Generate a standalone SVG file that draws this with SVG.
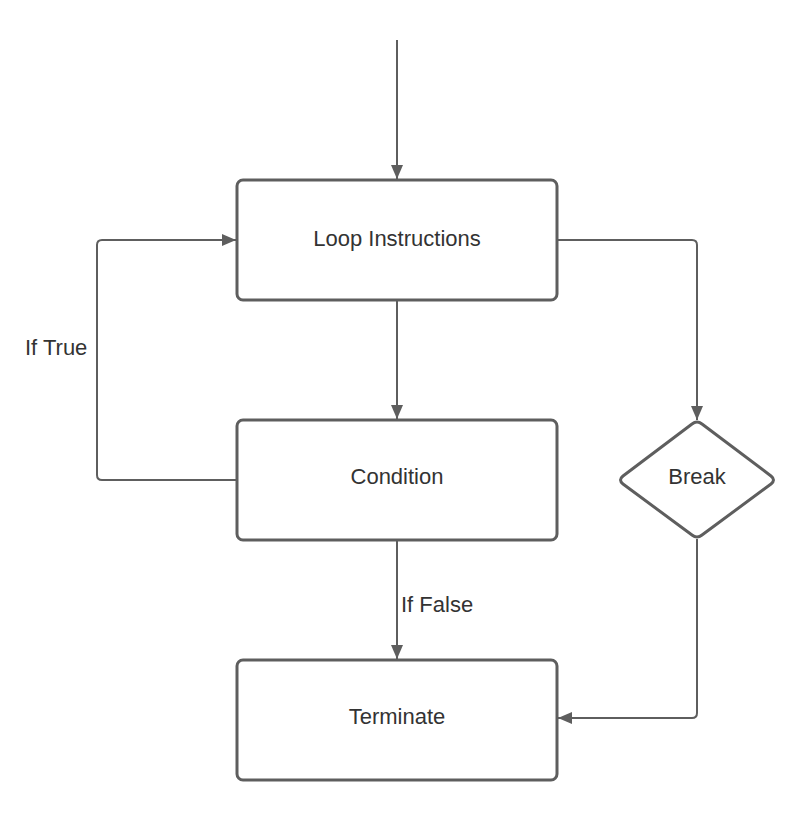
<svg xmlns="http://www.w3.org/2000/svg" width="798" height="820" viewBox="0 0 798 820">
<style>
.box{fill:#fff;stroke:#5e5e5e;stroke-width:3}
.ln{fill:none;stroke:#5e5e5e;stroke-width:2;stroke-linejoin:round}
.t{font-family:"Liberation Sans",Arial,sans-serif;font-size:22px;fill:#333;text-anchor:middle}
.lbl{font-family:"Liberation Sans",Arial,sans-serif;font-size:22px;fill:#333}
</style>
<defs>
<marker id="ah" markerWidth="16" markerHeight="14" refX="14" refY="6" orient="auto" markerUnits="userSpaceOnUse">
<path d="M0,0 L14,6 L0,12 Z" fill="#5e5e5e"/>
</marker>
</defs>
<rect width="798" height="820" fill="#fff"/>
<g id="connectors">
<path class="ln" d="M397,40 L397,179" marker-end="url(#ah)"/>
<path class="ln" d="M397,301 L397,419" marker-end="url(#ah)"/>
<path class="ln" d="M236,480 L102,480 Q97,480 97,475 L97,245 Q97,240 102,240 L236,240" marker-end="url(#ah)"/>
<path class="ln" d="M558,240 L692,240 Q697,240 697,245 L697,420" marker-end="url(#ah)"/>
<path class="ln" d="M697,539 L697,713 Q697,718 692,718 L558,718" marker-end="url(#ah)"/>
<path class="ln" d="M397,541 L397,659" marker-end="url(#ah)"/>
<text class="lbl" x="25" y="355">If True</text>
<text class="lbl" x="401" y="612">If False</text>
</g>
<g id="loop">
<rect class="box" x="237" y="180" width="320" height="120" rx="6"/>
<text class="t" x="397" y="246">Loop Instructions</text>
</g>
<g id="condition">
<rect class="box" x="237" y="420" width="320" height="120" rx="6"/>
<text class="t" x="397" y="484">Condition</text>
</g>
<g id="terminate">
<rect class="box" x="237" y="660" width="320" height="120" rx="6"/>
<text class="t" x="397" y="724">Terminate</text>
</g>
<g id="break">
<path class="box" stroke-linejoin="round" d="M692,424 Q697,420 702,424 L771,476 Q776,480 771,484 L702,535 Q697,539 692,535 L623,484 Q618,480 623,476 Z"/>
<text class="t" x="697" y="484">Break</text>
</g>
</svg>
